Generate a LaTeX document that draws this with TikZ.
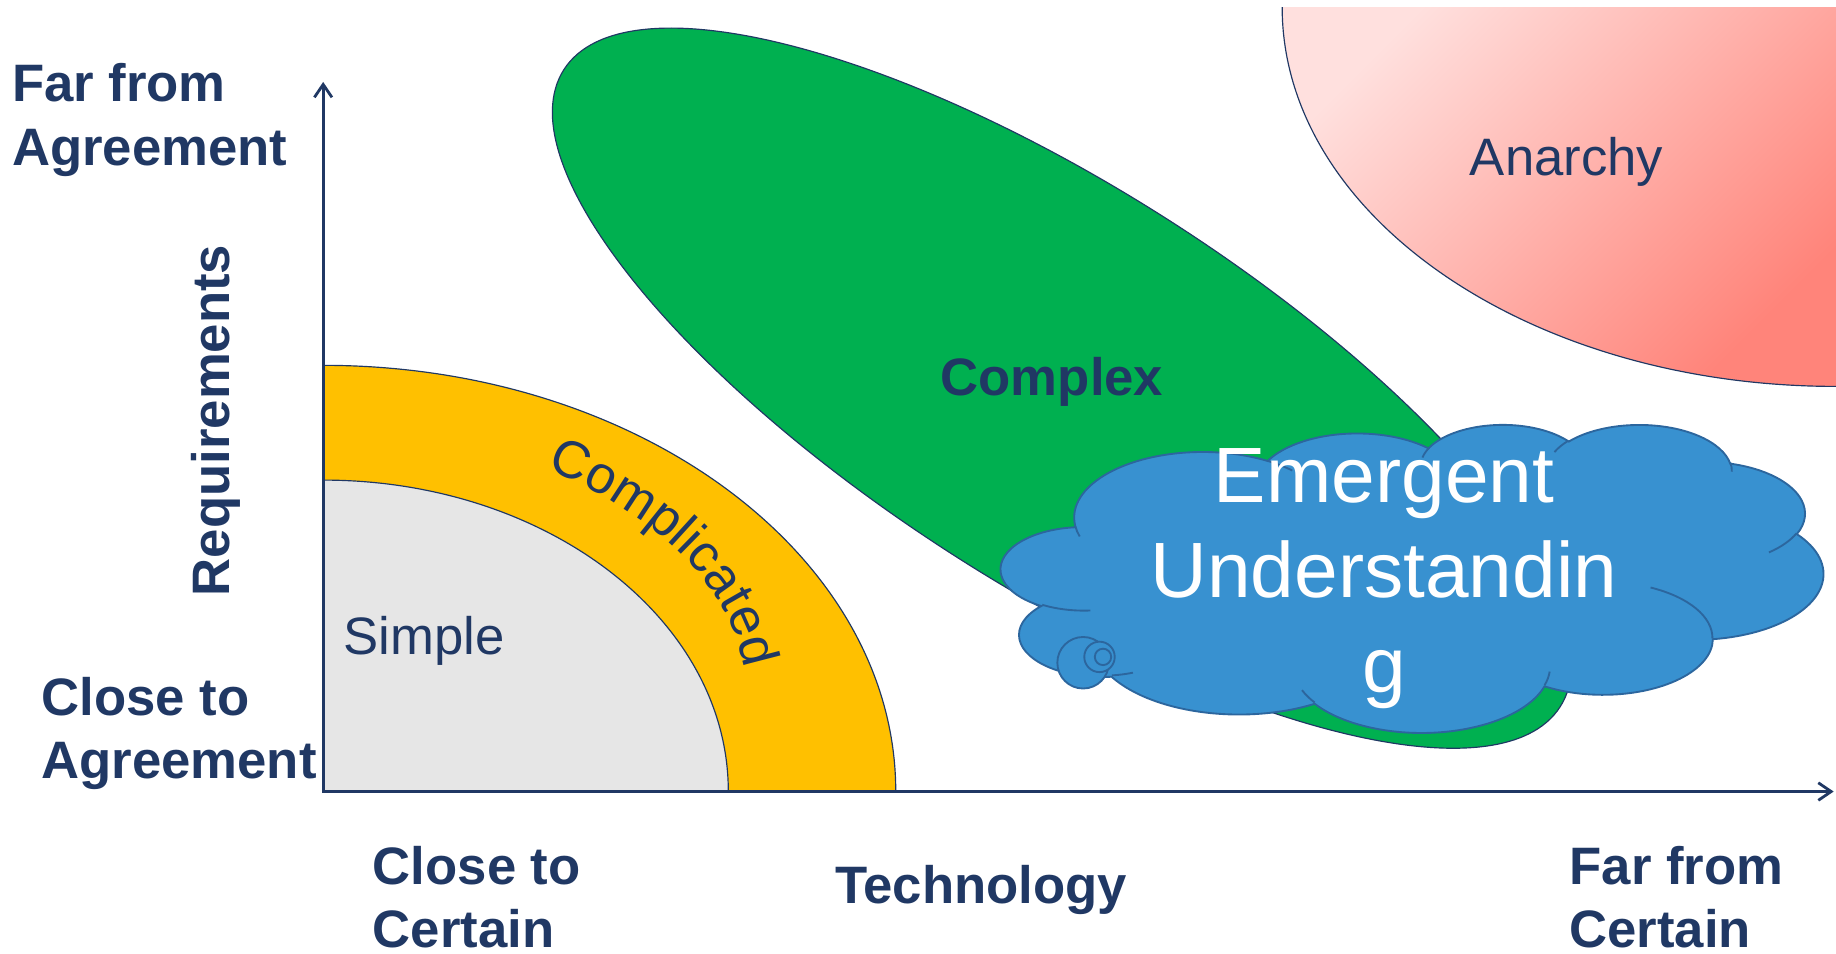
\documentclass[tikz,border=0pt]{standalone}
\usepackage{fontspec}
\setmainfont{Liberation Sans}
\usetikzlibrary{arrows.meta,decorations.text}

\definecolor{navy}{RGB}{32,56,100}
\definecolor{simplegray}{RGB}{230,230,230}
\definecolor{complorange}{RGB}{255,192,0}
\definecolor{complexgreen}{RGB}{0,176,80}
\definecolor{cloudblue}{RGB}{56,145,208}
\definecolor{cloudedge}{RGB}{44,102,158}
\definecolor{anarchylight}{RGB}{255,224,222}
\definecolor{anarchydark}{RGB}{255,132,122}

% one bump of the cloud: x radius, y radius, start angle, sweep (visual angles)
\newcommand\puffarc[4]{arc[x radius=#1, y radius=#2,
  start angle={atan2((#1)*sin(#3),(#2)*cos(#3))},
  delta angle={mod(atan2((#1)*sin((#3)+(#4)),(#2)*cos((#3)+(#4)))-atan2((#1)*sin(#3),(#2)*cos(#3))+720,360)}]}

\tikzset{
  region/.style={draw=navy, line width=0.5pt},
  biglabel/.style={font=\bfseries\fontsize{22.5}{27}\selectfont, text=navy, inner sep=0pt, align=left},
  zonelabel/.style={font=\fontsize{22.5}{27}\selectfont, text=navy, inner sep=0pt},
  puff/.style={fill=cloudblue, draw=cloudedge, line width=0.8pt},
  cloudline/.style={draw=cloudedge, line width=0.8pt},
}

\begin{document}
\begin{tikzpicture}[x=0.5pt, y=-0.5pt]

\useasboundingbox (0,0) rectangle (1568,814);

\coordinate (origin) at (276,676);
\coordinate (ytip) at (276,70);
\coordinate (xtip) at (1566,676);

% zones
\draw[region, fill=complorange] (origin) -- (276,312) arc[start angle=-90, end angle=0, x radius=489, y radius=364] -- cycle;
\draw[region, fill=simplegray] (origin) -- (276,410) arc[start angle=-90, end angle=0, x radius=346, y radius=266] -- cycle;

\draw[region, fill=complexgreen, rotate around={-32.6:(907,331.5)}] (907,331.5) ellipse[x radius=505, y radius=170];

\shade[top color=anarchylight, bottom color=anarchydark, shading angle=45]
  (1568,6) -- (1095,6) arc[start angle=180, end angle=90, x radius=473, y radius=324] -- cycle;
\draw[region] (1095,6) arc[start angle=180, end angle=90, x radius=473, y radius=324];

% cloud
\begin{scope}[shift={(855,362)}, x=0.08125pt, y=-0.03044pt]
\draw[puff] (390,1437)
  \puffarc{675.3}{919.0}{-190.4875}{123.7805}
  \puffarc{533.3}{726.7}{-144.1024}{89.9452}
  \puffarc{436.5}{594.5}{-145.8079}{99.7230}
  \puffarc{485.7}{659.5}{-130.9861}{117.2417}
  \puffarc{533.3}{727.3}{-78.7089}{109.0269}
  \puffarc{677.5}{922.0}{-46.2673}{130.2690}
  \puffarc{578.5}{786.7}{0.6250}{114.0333}
  \puffarc{675.2}{921.5}{22.4516}{115.1726}
  \puffarc{772.0}{1054.3}{66.2426}{75.7110}
  \puffarc{436.0}{591.8}{-274.9421}{146.7356}
  \puffarc{434.5}{594.5}{-246.8285}{152.5189}
  -- cycle;
\draw[cloudline]
  (469.3,2617.7) \puffarc{434.5}{594.5}{86.7420}{26.4295}
  (692.8,3489.9) \puffarc{436.0}{591.8}{73.6105}{11.4475}
  (1647.8,3909.0) \puffarc{675.2}{921.5}{137.6242}{14.0811}
  (2882.7,3475.1) \puffarc{675.2}{921.5}{6.4533}{15.9984}
  (3412.9,2295.4) \puffarc{578.5}{786.7}{-70.2924}{70.9174}
  (4179.8,1535.4) \puffarc{533.3}{727.3}{30.3180}{27.7515}
  (3832.4,542.6) \puffarc{485.7}{659.5}{-13.7443}{14.8589}
  (2907.8,395.2) \puffarc{485.7}{659.5}{-149.1815}{18.1954}
  (2214.1,472.0) \puffarc{436.5}{594.5}{-163.4943}{17.6864}
  (1400.0,519.2) \puffarc{675.3}{919.0}{-66.7070}{12.3194}
  (412.7,1578.9) \puffarc{675.3}{919.0}{157.6544}{11.8582};
\end{scope}

\foreach \cx/\cy/\r in {925/566/22, 939/561/13, 942/561/7}
{
    \draw[puff] (\cx,\cy) circle[radius=\r];
}

% texts
\node[biglabel, anchor=north west] (farAgree) at (10,54) {Far from\\Agreement};
\node[biglabel, anchor=north west] (closeAgree) at (35,578) {Close to\\Agreement};
\node[biglabel, rotate=90, anchor=base] (req) at (196,359) {Requirements};
\node[biglabel, anchor=north west] (closeCert) at (318,722) {Close to\\Certain};
\node[biglabel, anchor=north west] (tech) at (713,739) {Technology};
\node[biglabel, anchor=north west] (farCert) at (1340,722) {Far from\\Certain};

\node[biglabel, anchor=base west] (complex) at (803,338) {Complex};
\node[zonelabel, anchor=base west] (simple) at (293,559) {Simple};
\node[zonelabel, anchor=base west] (anarchy) at (1255,150) {Anarchy};
\node[font=\fontsize{33.5}{40.5}\selectfont, text=white, align=center, inner sep=0pt, anchor=north] (emergent) at (1182,383) {Emergent\\Understandin\\g};

\path[decorate, decoration={text along path, text color=navy,
  text={|\fontsize{22.5}{27}\selectfont|Complicated}}]
  (467.0,400.6) arc[start angle=-55.7, end angle=0, x radius=391.6, y radius=235];

% axes
\draw[navy, line width=1.2pt, {Straight Barb[length=5.5pt,width=7.5pt]}-{Straight Barb[length=5.5pt,width=7.5pt]}] (ytip) -- (origin) -- (xtip);

\end{tikzpicture}
\end{document}
